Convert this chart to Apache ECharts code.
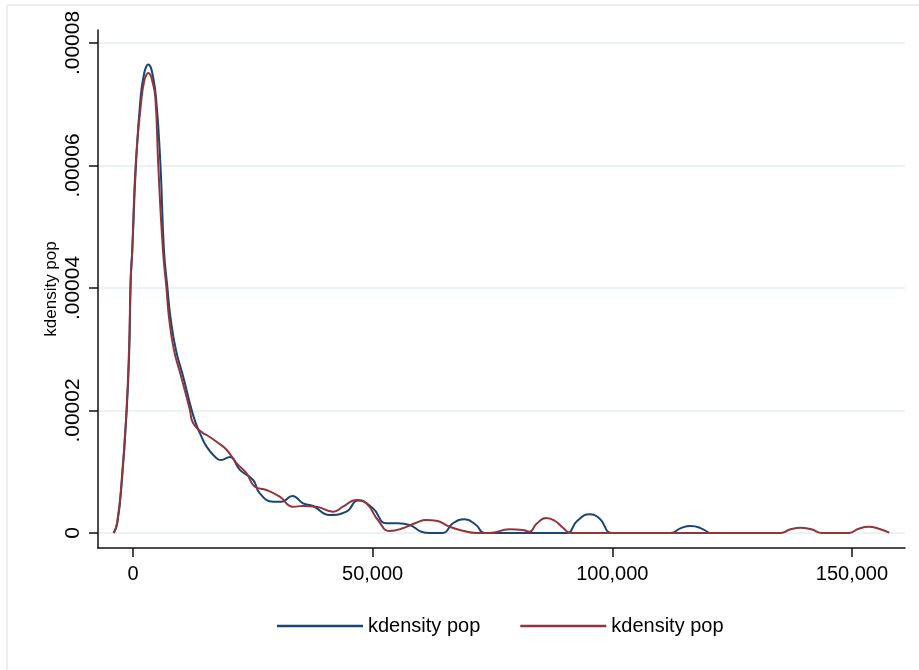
<!DOCTYPE html>
<html><head><meta charset="utf-8">
<script src="https://cdn.jsdelivr.net/npm/echarts@6/dist/echarts.min.js"></script>
<style>html,body{margin:0;padding:0;background:#fff}#c{width:919px;height:670px}</style>
</head><body><div id="c"></div>
<script>
// ---- data (x in thousands, density in 1e-5 units) ----
const seriesNames = ['kdensity pop', 'kdensity pop '];
const xTicks = [0, 50000, 100000, 150000];
const yTicks = [0, 0.00002, 0.00004, 0.00006, 0.00008];

const blueX = [-3.96,-3.27,-2.35,-1.31,-0.77,-0.48,-0.15,0.62,1.60,2.35,2.8,3.19,3.6,4.02,4.79,5.73,6.46,7.19,7.81,8.96,10.48,12.23,13.12,13.96,15.35,17.44,18.3,20.21,22.29,25.06,26.46,29.23,30.98,33.27,35.48,37.56,41.04,44.52,46.94,50.06,52.85,55.27,57.71,60.15,61.87,64.65,66.73,69.17,71.6,73.33,90.35,92.7,95.21,97.29,100.06,112.2,114.3,116.4,118.4,120.2];
const blueY = [0,0.16,0.82,2.01,2.99,4.13,4.62,6.01,7.12,7.51,7.62,7.65,7.62,7.51,7.12,6.01,4.62,4.00,3.53,2.99,2.55,2.01,1.79,1.63,1.41,1.22,1.19,1.24,1.03,0.865,0.648,0.511,0.511,0.604,0.485,0.441,0.294,0.348,0.531,0.403,0.158,0.158,0.131,0.021,0,0,0.158,0.224,0.131,0,0,0.2,0.305,0.24,0,0,0.08,0.114,0.08,0];

const redX = [-4.06,-3.33,-2.40,-1.35,-0.83,-0.48,-0.15,0.56,1.81,2.40,2.8,3.19,3.6,3.96,4.65,5.27,6.25,6.98,7.5,8.54,10.06,11.87,12.56,14.65,15.35,17.44,19.52,21.6,23.69,25.42,27.85,30.62,33.4,35.48,38.27,41.73,43.81,46.6,48.69,51.1,53.54,56.31,59.1,61.19,63.27,66.04,68.81,71.6,74.38,78.54,81.31,82.71,84.2,86.2,88.0,89.65,91.4,135.1,137.2,139.3,141.5,143.8,149.4,151.4,153.5,155.6,157.8];
const redY = [0,0.16,0.82,2.01,2.99,4.13,4.62,6.01,7.12,7.40,7.48,7.51,7.48,7.40,7.12,6.01,4.62,4.00,3.53,2.99,2.55,2.01,1.79,1.63,1.60,1.49,1.36,1.14,0.975,0.756,0.702,0.593,0.429,0.441,0.429,0.348,0.429,0.539,0.485,0.212,0.033,0.077,0.168,0.212,0.2,0.103,0.038,0,0,0.06,0.049,0.02,0.15,0.245,0.2,0.09,0,0,0.06,0.087,0.06,0,0,0.07,0.103,0.07,0.005];

const FONT = "'Liberation Sans',Arial,Helvetica,sans-serif";
const toPts = (xs, ys) => xs.map((x, i) => [x * 1000, ys[i] * 1e-5]);

const chart = echarts.init(document.getElementById('c'), null, {renderer: 'canvas'});
chart.setOption({
  animation: false,
  backgroundColor: '#ffffff',
  graphic: [
    {type: 'line', shape: {x1: 7, y1: 5, x2: 919, y2: 5}, style: {stroke: '#e8eef1', lineWidth: 2}, silent: true},
    {type: 'line', shape: {x1: 7, y1: 5, x2: 7, y2: 670}, style: {stroke: '#e8eef1', lineWidth: 2}, silent: true}
  ],
  grid: {left: 98, right: 14, top: 30, bottom: 122, containLabel: false},
  legend: {
    left: 272, top: 611,
    icon: 'rect',
    itemWidth: 86, itemHeight: 2.5, itemGap: 40,
    formatter: n => n.trim(),
    textStyle: {fontFamily: FONT, fontSize: 20, color: '#000'},
    data: seriesNames.map(n => ({name: n}))
  },
  xAxis: {
    type: 'value', min: -7300, max: 161070,
    axisLine: {onZero: false, lineStyle: {color: '#111', width: 1.5}},
    axisTick: {show: true, length: 9, customValues: xTicks, lineStyle: {color: '#111', width: 1.5}},
    axisLabel: {customValues: xTicks, margin: 16, fontFamily: FONT, fontSize: 20, color: '#000',
      formatter: v => v.toLocaleString('en-US')},
    splitLine: {show: false}
  },
  yAxis: {
    type: 'value', min: -0.000002449, max: 0.00008212,
    name: 'kdensity pop', nameLocation: 'middle', nameRotate: 90, nameGap: 38, nameMoveOverlap: false,
    nameTextStyle: {fontFamily: FONT, fontSize: 17, color: '#000'},
    axisLine: {show: true, onZero: false, lineStyle: {color: '#111', width: 1.5}},
    axisTick: {show: true, length: 9, customValues: yTicks, lineStyle: {color: '#111', width: 1.5}},
    axisLabel: {customValues: yTicks, rotate: 90, margin: 14, fontFamily: FONT, fontSize: 21, color: '#000',
      formatter: v => v === 0 ? '0' : v.toFixed(5).replace(/^0/, '')},
    splitLine: {show: true, lineStyle: {color: '#eaf2f3', width: 2}}
  },
  series: [
    {name: seriesNames[0], type: 'line', data: toPts(blueX, blueY), showSymbol: false, symbol: 'none',
      smooth: 0.5, color: '#1a476f', lineStyle: {color: '#1a476f', width: 2}},
    {name: seriesNames[1], type: 'line', data: toPts(redX, redY), showSymbol: false, symbol: 'none',
      smooth: 0.5, color: '#90353b', lineStyle: {color: '#90353b', width: 2}}
  ]
});
</script></body></html>
